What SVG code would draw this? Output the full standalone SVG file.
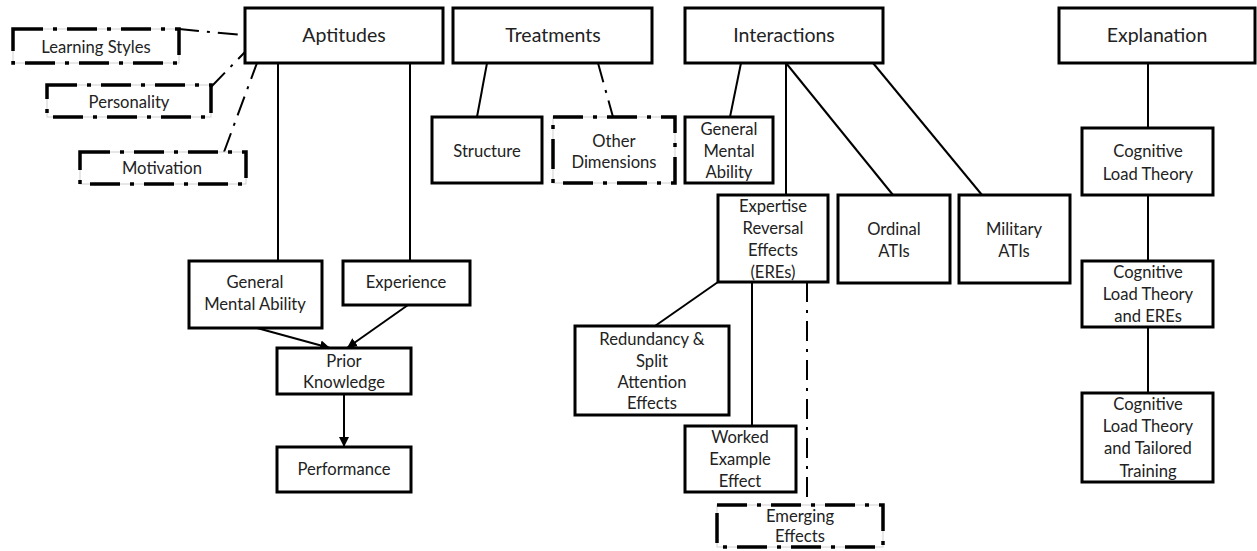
<svg xmlns="http://www.w3.org/2000/svg" width="1257" height="551" viewBox="0 0 1257 551">
<defs>
<style>
.box{fill:#fff;stroke:#000;stroke-width:3}
.dbg{fill:#fff;stroke:#d0d0d0;stroke-width:1}
.dbox{fill:none;stroke:#000;stroke-width:3.5;stroke-dasharray:30 10 4 10}
.ln{stroke:#000;stroke-width:2;fill:none}
.dln{stroke:#000;stroke-width:2;fill:none;stroke-dasharray:20 8 3 8}
text{font-family:Lato,"Open Sans","Liberation Sans",sans-serif;fill:#222;text-anchor:middle}
.h{font-size:19.5px}
.t{font-size:16.6px}
</style>
<marker id="ar" viewBox="0 0 10 10" refX="10" refY="5" markerWidth="10" markerHeight="10" markerUnits="userSpaceOnUse" orient="auto">
<path d="M0,0 L10,5 L0,10 z" fill="#000"/>
</marker>
</defs>
<rect width="1257" height="551" fill="#fff"/>
<g id="connectors">
<line class="dln" x1="179" y1="29" x2="242" y2="35"/>
<line class="dln" x1="211" y1="87" x2="245" y2="52"/>
<line class="dln" x1="224" y1="152" x2="257" y2="63"/>
<line class="ln" x1="278" y1="63" x2="278" y2="261"/>
<line class="ln" x1="410" y1="63" x2="410" y2="261"/>
<line class="ln" x1="257" y1="328" x2="330" y2="348" marker-end="url(#ar)"/>
<line class="ln" x1="408" y1="305" x2="347" y2="348" marker-end="url(#ar)"/>
<line class="ln" x1="344" y1="394" x2="344" y2="447" marker-end="url(#ar)"/>
<line class="ln" x1="487" y1="63" x2="477" y2="117"/>
<line class="dln" x1="598" y1="63" x2="613" y2="117"/>
<line class="ln" x1="741" y1="63" x2="730" y2="117"/>
<line class="ln" x1="786" y1="63" x2="786" y2="195"/>
<line class="ln" x1="786" y1="63" x2="893" y2="195"/>
<line class="ln" x1="873" y1="63" x2="982" y2="195"/>
<line class="ln" x1="718" y1="282" x2="655" y2="326"/>
<line class="ln" x1="752" y1="282" x2="752" y2="426"/>
<line class="dln" x1="807" y1="282" x2="807" y2="505"/>
<line class="ln" x1="1148" y1="63" x2="1148" y2="128"/>
<line class="ln" x1="1148" y1="195" x2="1148" y2="261"/>
<line class="ln" x1="1148" y1="327" x2="1148" y2="393"/>
</g>
<g id="aptitudes"><rect class="box" x="245" y="8" width="198" height="55"/><text class="h" x="344" y="42">Aptitudes</text></g>
<g id="treatments"><rect class="box" x="453" y="8" width="199" height="55"/><text class="h" x="553" y="42">Treatments</text></g>
<g id="interactions"><rect class="box" x="685" y="8" width="198" height="55"/><text class="h" x="784" y="42">Interactions</text></g>
<g id="explanation"><rect class="box" x="1059" y="8" width="196" height="55"/><text class="h" x="1157" y="42">Explanation</text></g>
<g id="learning-styles"><rect class="dbg" x="13" y="29" width="166" height="34"/><rect class="dbox" x="13" y="29" width="166" height="34"/><text class="t" x="96" y="53">Learning Styles</text></g>
<g id="personality"><rect class="dbg" x="47" y="85" width="164" height="32"/><rect class="dbox" x="47" y="85" width="164" height="32"/><text class="t" x="129" y="108">Personality</text></g>
<g id="motivation"><rect class="dbg" x="80" y="152" width="166" height="32"/><rect class="dbox" x="80" y="152" width="166" height="32"/><text class="t" x="162" y="174">Motivation</text></g>
<g id="gma-apt"><rect class="box" x="189" y="261" width="133" height="67"/><text class="t" x="255" y="288">General</text><text class="t" x="255" y="310">Mental Ability</text></g>
<g id="experience"><rect class="box" x="343" y="261" width="127" height="44"/><text class="t" x="406" y="288">Experience</text></g>
<g id="prior-knowledge"><rect class="box" x="277" y="348" width="134" height="46"/><text class="t" x="344" y="367">Prior</text><text class="t" x="344" y="388">Knowledge</text></g>
<g id="performance"><rect class="box" x="277" y="447" width="134" height="45"/><text class="t" x="344" y="475">Performance</text></g>
<g id="structure"><rect class="box" x="432" y="117" width="110" height="66"/><text class="t" x="487" y="157">Structure</text></g>
<g id="other-dimensions"><rect class="dbg" x="553" y="117" width="122" height="66"/><rect class="dbox" x="553" y="117" width="122" height="66"/><text class="t" x="614" y="147">Other</text><text class="t" x="614" y="168">Dimensions</text></g>
<g id="gma-int"><rect class="box" x="685" y="117" width="88" height="66"/><text class="t" x="729" y="135">General</text><text class="t" x="729" y="157">Mental</text><text class="t" x="729" y="178">Ability</text></g>
<g id="eres"><rect class="box" x="718" y="195" width="110" height="87"/><text class="t" x="773" y="212">Expertise</text><text class="t" x="773" y="234">Reversal</text><text class="t" x="773" y="256">Effects</text><text class="t" x="773" y="278">(EREs)</text></g>
<g id="ordinal"><rect class="box" x="838" y="195" width="112" height="88"/><text class="t" x="894" y="235">Ordinal</text><text class="t" x="894" y="257">ATIs</text></g>
<g id="military"><rect class="box" x="959" y="195" width="111" height="88"/><text class="t" x="1014" y="235">Military</text><text class="t" x="1014" y="257">ATIs</text></g>
<g id="redundancy"><rect class="box" x="575" y="326" width="154" height="89"/><text class="t" x="652" y="345">Redundancy &amp;</text><text class="t" x="652" y="367">Split</text><text class="t" x="652" y="388">Attention</text><text class="t" x="652" y="409">Effects</text></g>
<g id="worked-example"><rect class="box" x="685" y="426" width="111" height="66"/><text class="t" x="740" y="443">Worked</text><text class="t" x="740" y="465">Example</text><text class="t" x="740" y="487">Effect</text></g>
<g id="emerging"><rect class="dbg" x="717" y="505" width="166" height="42"/><rect class="dbox" x="717" y="505" width="166" height="42"/><text class="t" x="800" y="522">Emerging</text><text class="t" x="800" y="542">Effects</text></g>
<g id="clt"><rect class="box" x="1082" y="128" width="131" height="67"/><text class="t" x="1148" y="157">Cognitive</text><text class="t" x="1148" y="180">Load Theory</text></g>
<g id="clt-eres"><rect class="box" x="1082" y="261" width="131" height="66"/><text class="t" x="1148" y="278">Cognitive</text><text class="t" x="1148" y="300">Load Theory</text><text class="t" x="1148" y="322">and EREs</text></g>
<g id="clt-tailored"><rect class="box" x="1082" y="393" width="131" height="89"/><text class="t" x="1148" y="410">Cognitive</text><text class="t" x="1148" y="432">Load Theory</text><text class="t" x="1148" y="454">and Tailored</text><text class="t" x="1148" y="477">Training</text></g>
</svg>
